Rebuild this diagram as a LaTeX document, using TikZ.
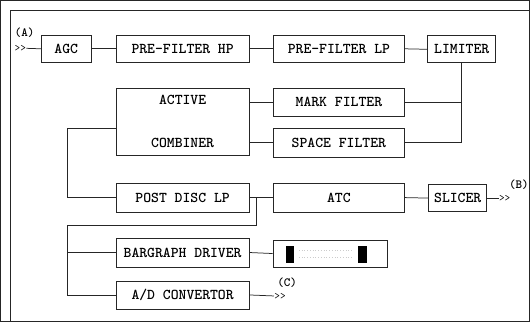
\documentclass[tikz,border=0pt]{standalone}
\usepackage{fontspec}
\begin{document}
\begin{tikzpicture}[x=1pt,y=-1pt,
  every path/.style={line width=0.75pt, draw=black!85},
  blk/.style={draw, rectangle, inner sep=0pt, line width=0.8pt, font=\fontsize{15}{17}\selectfont\ttfamily\bfseries},
  lbl/.style={inner sep=0pt, font=\fontsize{15}{17}\selectfont\ttfamily\bfseries},
  sml/.style={inner sep=0pt, font=\fontsize{12.5}{14}\selectfont\ttfamily\bfseries},
  arr/.style={inner sep=0pt, font=\fontsize{11}{13}\selectfont\ttfamily}]
\useasboundingbox (0,0) rectangle (530,321);
% outer frame
\draw (10,321) -- (10,10) -- (530,10);
% blocks
\node[blk, minimum width=50pt, minimum height=27pt] (agc) at (66,48.5) {AGC};
\node[blk, minimum width=133pt, minimum height=27pt] (php) at (182.5,48.5) {PRE-FILTER HP};
\node[blk, minimum width=132pt, minimum height=27pt] (plp) at (339,48.5) {PRE-FILTER LP};
\node[blk, minimum width=68pt, minimum height=27pt] (lim) at (462,49) {LIMITER};
\node[blk, minimum width=133pt, minimum height=67pt] (comb) at (182.5,121.5) {};
\node[lbl] (tact) at (182.5,100) {ACTIVE};
\node[lbl] (tcomb) at (182.5,142.5) {COMBINER};
\node[blk, minimum width=132pt, minimum height=28pt] (mark) at (339,102) {MARK FILTER};
\node[blk, minimum width=132pt, minimum height=29pt] (space) at (339,142.5) {SPACE FILTER};
\node[blk, minimum width=133pt, minimum height=29pt] (post) at (182.5,197.5) {POST DISC LP};
\node[blk, minimum width=132pt, minimum height=29pt] (atc) at (339,197.5) {ATC};
\node[blk, minimum width=58pt, minimum height=27pt] (slicer) at (458,198) {SLICER};
\node[blk, minimum width=133pt, minimum height=29pt] (bar) at (182.5,252.5) {BARGRAPH DRIVER};
\node[blk, minimum width=133pt, minimum height=28pt] (ad) at (182.5,295) {A/D CONVERTOR};
\node[blk, minimum width=115pt, minimum height=27pt] (disp) at (330.5,253.5) {};
\fill[black] (286,246) rectangle (293,262);
\fill[black] (359,246) rectangle (367,262);
\draw[black!20, dotted, line width=0.6pt] (299,250) -- (352,250);
\draw[black!20, dotted, line width=0.6pt] (299,257) -- (352,257);
% in/out labels
\node[sml, anchor=west] (la) at (14,32) {(A)};
\node[arr, anchor=west] (ain) at (14,48) {>>};
\node[arr, anchor=west] (bout) at (499,198) {>>};
\node[sml, anchor=west] (lb) at (509,185) {(B)};
\node[arr, anchor=west] (cout) at (274,296) {>>};
\node[sml, anchor=west] (lc) at (277,283) {(C)};
% connectors
\draw (ain.east) -- (agc.west);
\draw (agc.east) -- (php.west);
\draw (php.east) -- (plp.west);
\draw (plp.east) -- (lim.west);
\draw (lim.south) |- (space.east);
\draw (lim.south |- mark.east) -- (mark.east);
\draw (mark.west -| comb.east) -- (mark.west);
\draw (space.west -| comb.east) -- (space.west);
\coordinate (cl) at (116,128);
\draw (cl) -- (67,128) |- (post.west);
\draw (post.east) -- (atc.west);
\coordinate (p1) at (256,197.5);
\coordinate (k) at (67,225);
\draw (p1) |- (k) |- (ad.west);
\draw (k |- bar.west) -- (bar.west);
\draw (bar.east) -- (disp.west);
\draw (atc.east) -- (slicer.west);
\draw (slicer.east) -- (bout.west);
\draw (ad.east) -- (cout.west);
\end{tikzpicture}
\end{document}
